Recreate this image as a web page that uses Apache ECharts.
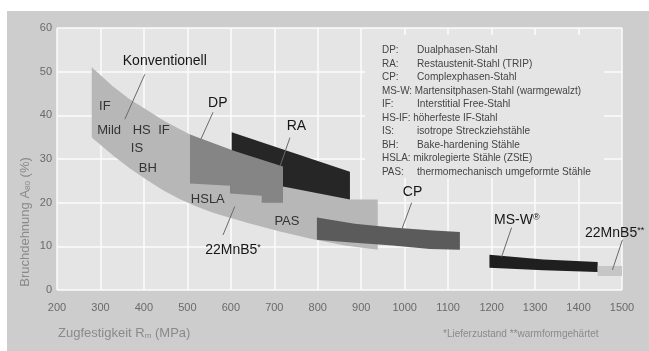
<!DOCTYPE html>
<html>
<head>
<meta charset="utf-8">
<script src="https://cdn.jsdelivr.net/npm/echarts@6/dist/echarts.min.js"></script>
<style>
html,body{margin:0;padding:0;background:#ffffff;}
#frame{position:absolute;left:7px;top:11px;width:642px;height:340px;background:#cdcdcd;}
#chart{position:absolute;left:0;top:0;width:649px;height:351px;}
</style>
</head>
<body>
<div id="frame"></div>
<div id="chart"></div>
<script>
// ---- axis ticks ----
const xMin = 200, xMax = 1500, xStep = 100;
const yMin = 0, yMax = 60, yStep = 10;

// ---- band outlines (Rm MPa, A80 %) ----
const konvTop    = [[280,51.0],[329,46.6],[368,43.6],[407,41.2],[445,38.8],[483,36.8],[506,35.6],[600,31.5],[720,26.5],[800,23.5],[874,20.7],[938,20.7]];
const konvBottom = [[280,34.9],[329,30.8],[368,27.8],[407,25.2],[445,22.8],[483,20.8],[521,19.1],[559,17.7],[637,15.4],[713,13.4],[789,11.6],[862,10.2],[938,9.2]];
const raShape    = [[602,36.1],[874,27.1],[874,20.7],[720,23.7],[602,26.2]];
const dpShape    = [[506,35.6],[610,31.8],[720,28.3],[720,20.0],[671,20.0],[671,21.6],[598,22.1],[598,23.9],[506,24.4]];
const cpTop      = [[798,16.6],[885,15.2],[972,14.3],[1058,13.7],[1127,13.3]];
const cpBottom   = [[798,11.5],[885,10.8],[972,10.2],[1058,9.4],[1127,9.2]];
const msTop      = [[1195,8.05],[1319,7.0],[1444,6.4]];
const msBottom   = [[1195,5.1],[1319,4.5],[1444,4.1]];
const mnbBox     = [[1444,5.5],[1500,5.5],[1500,3.2],[1444,3.2]];

// ---- labels [text, x, y] ----
const mainLabels = [
  ['Konventionell',448,52.4],
  ['DP',570,42.8],
  ['RA',751,37.6],
  ['22MnB5{s|*}',605,9.2],
  ['CP',1018,22.3],
  ['MS-W{s|®}',1258,16.1],
  ['22MnB5{s|**}',1483,13.1]
];
const subLabels = [
  ['IF',310,42.1],['Mild',320,36.6],['HS',395,36.6],['IF',446,36.6],
  ['IS',384,32.4],['BH',409,27.8],['HSLA',547,20.7],['PAS',729,15.6]
];
// leader lines [x1,y1,x2,y2]
const leaders = [
  [402,49.4,356,39.1],
  [559,40.7,531,34.5],
  [736,34.9,713,28.3],
  [609,19.1,582,12.6],
  [1016,20.0,993,13.8],
  [1246,14.3,1223,7.6],
  [1501,11.5,1478,4.6]
];

// ---- legend text ----
const legendAbbr = ['DP:','RA:','CP:','MS-W:','IF:','HS-IF:','IS:','BH:','HSLA:','PAS:'];
const legendDesc = ['Dualphasen-Stahl','Restaustenit-Stahl (TRIP)','Complexphasen-Stahl','Martensitphasen-Stahl (warmgewalzt)','Interstitial Free-Stahl','höherfeste IF-Stahl','isotrope Streckziehstähle','Bake-hardening Stähle','mikrolegierte Stähle (ZStE)','thermomechanisch umgeformte Stähle'];
const footnote = '*Lieferzustand **warmformgehärtet';

const FONT = '"Liberation Sans", Arial, sans-serif';

function closed(top, bottom){ return top.concat(bottom.slice().reverse()); }

function band(points, color){
  return {
    type:'custom', silent:true, data:[[xMin,yMin]],
    renderItem:function(params, api){
      return {type:'polygon', shape:{points: points.map(function(p){return api.coord(p);})}, style:{fill:color}};
    }
  };
}

const chart = echarts.init(document.getElementById('chart'), null, {renderer:'canvas'});

const legendGraphics = [];
legendAbbr.forEach(function(a, i){
  const y = 50 + i*13.55;
  const st = {font:'11px '+FONT, fill:'#444', textVerticalAlign:'middle'};
  if (a.length > 4) {
    legendGraphics.push({type:'text', x:382, y:y, z:3, scaleX:0.9, style:Object.assign({text:a+' '+legendDesc[i]}, st)});
  } else {
    legendGraphics.push({type:'text', x:382, y:y, z:3, scaleX:0.9, style:Object.assign({text:a}, st)});
    legendGraphics.push({type:'text', x:417, y:y, z:3, scaleX:0.92, style:Object.assign({text:legendDesc[i]}, st)});
  }
});

const option = {
  animation:false,
  grid:{left:57, right:27, top:28, bottom:61, show:true, backgroundColor:'#e5e5e5', borderWidth:0},
  xAxis:{type:'value', min:xMin, max:xMax, interval:xStep,
    axisLine:{show:false}, axisTick:{show:false},
    axisLabel:{color:'#6a6a6a', fontSize:11, fontFamily:FONT, margin:12, formatter:function(v){return String(v);}},
    splitLine:{show:true, lineStyle:{color:'#fbfbfb', width:1.5}}},
  yAxis:{type:'value', min:yMin, max:yMax, interval:yStep,
    axisLine:{show:false}, axisTick:{show:false},
    axisLabel:{color:'#6a6a6a', fontSize:11, fontFamily:FONT, margin:5, formatter:function(v){return String(v);}},
    splitLine:{show:true, lineStyle:{color:'#fbfbfb', width:1.5}}},
  graphic:[
    {type:'rect', shape:{x:365, y:35, width:239, height:143}, z:1, style:{fill:'#e5e5e5'}},
    {type:'text', x:58, y:333, z:3, style:{text:'Zugfestigkeit R{sub|m} (MPa)', font:'13px '+FONT, fill:'#8a8a8a', textVerticalAlign:'middle',
      rich:{sub:{fontSize:8, fontFamily:FONT, fill:'#8a8a8a', verticalAlign:'bottom'}}}},
    {type:'text', x:25, y:222, rotation:Math.PI/2, z:3, style:{text:'Bruchdehnung A{sub|80} (%)', font:'13px '+FONT, fill:'#8a8a8a', textAlign:'center', textVerticalAlign:'middle',
      rich:{sub:{fontSize:8, fontFamily:FONT, fill:'#8a8a8a', verticalAlign:'bottom'}}}},
    {type:'text', x:443, y:334, z:3, style:{text:footnote, font:'10px '+FONT, fill:'#8a8a8a', textVerticalAlign:'middle'}}
  ].concat(legendGraphics),
  series:[
    band(closed(konvTop, konvBottom), '#b7b7b7'),
    band(raShape, '#262626'),
    band(dpShape, '#858585'),
    band(closed(cpTop, cpBottom), '#5b5b5b'),
    band(closed(msTop, msBottom), '#1f1f1f'),
    band(mnbBox, '#c6c6c6'),
    {type:'custom', silent:true, data:leaders.map(function(l){return [l[0],l[1],l[2],l[3]];}),
      renderItem:function(params, api){
        const l = leaders[params.dataIndex];
        const a = api.coord([l[0],l[1]]), b = api.coord([l[2],l[3]]);
        return {type:'line', shape:{x1:a[0],y1:a[1],x2:b[0],y2:b[1]}, style:{stroke:'#6a6a6a', lineWidth:1}};
      }},
    {type:'custom', silent:true, data:subLabels.map(function(l){return [l[1],l[2]];}),
      renderItem:function(params, api){
        const l = subLabels[params.dataIndex];
        const p = api.coord([l[1],l[2]]);
        return {type:'text', x:p[0], y:p[1], style:{text:l[0], font:'13px '+FONT, fill:'#333', textAlign:'center', textVerticalAlign:'middle'}};
      }},
    {type:'custom', silent:true, data:mainLabels.map(function(l){return [l[1],l[2]];}),
      renderItem:function(params, api){
        const l = mainLabels[params.dataIndex];
        const p = api.coord([l[1],l[2]]);
        return {type:'text', x:p[0], y:p[1], style:{text:l[0], font:'14px '+FONT, fill:'#161616', textAlign:'center', textVerticalAlign:'middle',
          rich:{s:{fontSize:9, fontFamily:FONT, fill:'#161616', verticalAlign:'top'}}}};
      }}
  ]
};
chart.setOption(option);
</script>
</body>
</html>
